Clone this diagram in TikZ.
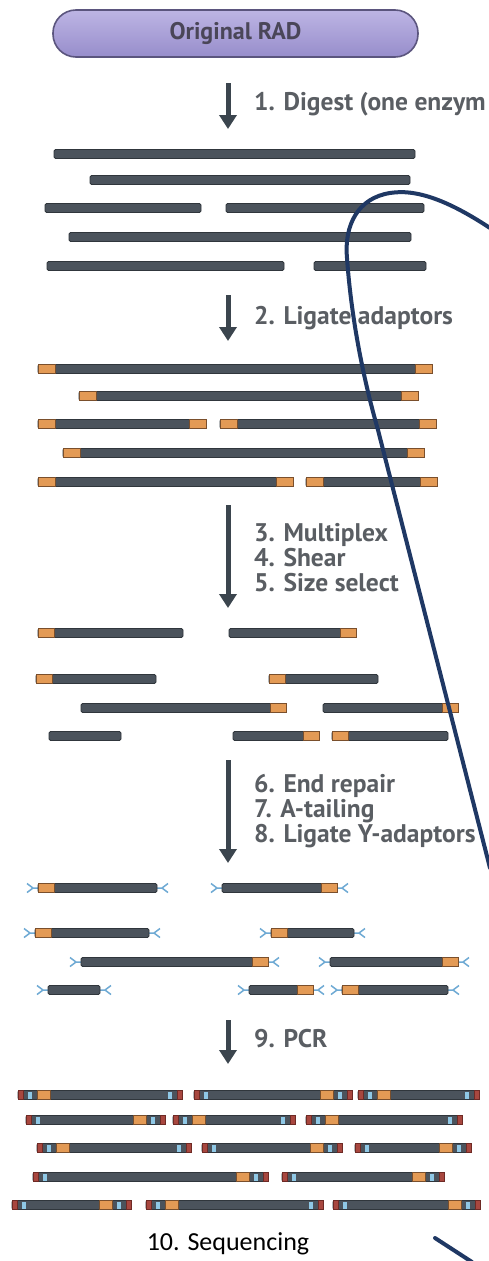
\documentclass[tikz,border=0pt]{standalone}
\usepackage{fontspec}
\setmainfont{PT Sans}
\newfontfamily\seqfont{Carlito}
\usetikzlibrary{arrows.meta}

\definecolor{barfill}{HTML}{4B535C}
\definecolor{barline}{HTML}{30363C}
\definecolor{capfill}{HTML}{E39A55}
\definecolor{capline}{HTML}{7A4F2C}
\definecolor{forkblue}{HTML}{6FAAD4}
\definecolor{pcrred}{HTML}{A8473F}
\definecolor{pcrredline}{HTML}{6E2A25}
\definecolor{pcrblue}{HTML}{8FC8E6}
\definecolor{arrowcol}{HTML}{3B454E}
\definecolor{labelcol}{HTML}{5A5E63}
\definecolor{pilltop}{HTML}{BDB5E4}
\definecolor{pillbot}{HTML}{978DCB}
\definecolor{pillline}{HTML}{5B557E}
\definecolor{pilltext}{HTML}{4A4658}
\definecolor{navy}{HTML}{1F3864}

\tikzset{
  barsty/.style={fill=barfill, draw=barline, line width=0.9pt, rounded corners=1.5pt},
  capsty/.style={fill=capfill, draw=capline, line width=0.7pt},
  forksty/.style={draw=forkblue, line width=1.5pt},
  redcap/.style={fill=pcrred, draw=pcrredline, line width=0.6pt},
  bluemark/.style={fill=pcrblue},
  steparrow/.style={draw=arrowcol, line width=5pt, -{Triangle[width=17pt,length=14pt]}},
  lbl/.style={anchor=west, align=left, text=labelcol, font=\bfseries\fontsize{25.5}{25}\selectfont, inner sep=0pt},
  pill/.style={rounded corners=23pt, minimum width=365pt, minimum height=47pt,
    top color=pilltop, bottom color=pillbot, draw=pillline, line width=1.6pt,
    text=pilltext, font=\bfseries\fontsize{24}{24}\selectfont},
  pen/.style={draw=navy, line width=4pt, line cap=round}
}

% a plain DNA fragment from x1 to x2 at height y
\newcommand{\plainbar}[3]{\draw[barsty] (#1,#3-4.5) rectangle (#2,#3+4.5);}
% an orange adaptor block from x1 to x2 at height y
\newcommand{\ocap}[3]{\draw[capsty] (#1,#3-4.5) rectangle (#2,#3+4.5);}
% fragment with adaptors at both ends
\newcommand{\ligbar}[3]{\plainbar{#1}{#2}{#3}\ocap{#1}{#1+17}{#3}\ocap{#2-17}{#2}{#3}}
% fragment with an adaptor on the left / right end only
\newcommand{\sbarL}[3]{\plainbar{#1}{#2}{#3}\ocap{#1}{#1+16}{#3}}
\newcommand{\sbarR}[3]{\plainbar{#1}{#2}{#3}\ocap{#2-16}{#2}{#3}}
% Y-adaptor forks at both ends
\newcommand{\forks}[3]{\draw[forksty] (#1-11,#3-4.5) -- (#1-5,#3) -- (#1-11,#3+4.5) (#1-5,#3) -- (#1,#3)
  (#2+11,#3-4.5) -- (#2+5,#3) -- (#2+11,#3+4.5) (#2+5,#3) -- (#2,#3);}
\newcommand{\ybarL}[3]{\forks{#1}{#2}{#3}\sbarL{#1}{#2}{#3}}
\newcommand{\ybarR}[3]{\forks{#1}{#2}{#3}\sbarR{#1}{#2}{#3}}
\newcommand{\ybarN}[3]{\forks{#1}{#2}{#3}\plainbar{#1}{#2}{#3}}
% amplified library fragment
\newcommand{\pcrbase}[3]{\plainbar{#1}{#2}{#3}
  \draw[redcap] (#1,#3-4.5) rectangle (#1+5,#3+4.5);
  \draw[redcap] (#2-5,#3-4.5) rectangle (#2,#3+4.5);
  \fill[bluemark] (#1+10,#3-3.5) rectangle (#1+14,#3+3.5);
  \fill[bluemark] (#2-14,#3-3.5) rectangle (#2-10,#3+3.5);}
\newcommand{\pcrL}[3]{\pcrbase{#1}{#2}{#3}\ocap{#1+19}{#1+32}{#3}}
\newcommand{\pcrR}[3]{\pcrbase{#1}{#2}{#3}\ocap{#2-32}{#2-19}{#3}}

\begin{document}
\begin{tikzpicture}[x=1pt,y=-1pt]
\useasboundingbox[fill=white] (0,0) rectangle (488,1261);

% title
\node[pill] (orig) at (235.5,33.5) {Original RAD};

% step 1
\coordinate (s1a) at (228,83);
\coordinate (s1b) at (228,129);
\draw[steparrow] (s1a) -- (s1b);
\node[lbl] (l1) at (254,104) {1. Digest (one enzym};

\plainbar{54}{415}{154}
\plainbar{90}{410}{180}
\plainbar{45}{201}{208} \plainbar{226}{424}{208}
\plainbar{69}{411}{237}
\plainbar{47}{284}{266} \plainbar{314}{426}{266}

% step 2
\coordinate (s2a) at (228,295);
\coordinate (s2b) at (228,341);
\draw[steparrow] (s2a) -- (s2b);
\node[lbl] (l2) at (254,318) {2. Ligate adaptors};

\ligbar{38}{432}{369}
\ligbar{79}{418}{396}
\ligbar{38}{206}{424} \ligbar{220}{436}{424}
\ligbar{63}{424}{453}
\ligbar{38}{293}{482} \ligbar{306}{437}{482}

% steps 3-5
\coordinate (s3a) at (228,505);
\coordinate (s3b) at (228,608);
\draw[steparrow] (s3a) -- (s3b);
\node[lbl] (l3) at (254,558) {3. Multiplex\\4. Shear\\5. Size select};

\sbarL{38}{183}{633} \sbarR{229}{356}{633}
\sbarL{36}{156}{679} \sbarL{269}{378}{679}
\sbarR{81}{286}{708} \sbarR{323}{458}{708}
\plainbar{49}{121}{736} \sbarR{233}{319}{736} \sbarL{332}{448}{736}

% steps 6-8
\coordinate (s4a) at (228,760);
\coordinate (s4b) at (228,863);
\draw[steparrow] (s4a) -- (s4b);
\node[lbl] (l4) at (254,811) {6. End repair\\7. A-tailing\\8. Ligate Y-adaptors};

\ybarL{38}{157}{888} \ybarR{222}{337}{888}
\ybarL{35}{149}{933} \ybarL{271}{354}{933}
\ybarR{81}{268}{962} \ybarR{330}{458}{962}
\ybarN{48}{100}{990} \ybarR{249}{313}{990} \ybarL{342}{448}{990}

% step 9
\coordinate (s5a) at (228,1020);
\coordinate (s5b) at (228,1064);
\draw[steparrow] (s5a) -- (s5b);
\node[lbl] (l5) at (254,1039) {9. PCR};

\pcrL{18}{182}{1095} \pcrR{194}{352}{1095} \pcrL{358}{479}{1095}
\pcrR{26}{165}{1120} \pcrL{173}{295}{1120} \pcrL{306}{462}{1120}
\pcrL{37}{191}{1148} \pcrR{202}{342}{1148} \pcrR{355}{471}{1148}
\pcrR{33}{268}{1177} \pcrR{282}{444}{1177}
\pcrR{12}{131}{1205} \pcrL{146}{323}{1205} \pcrR{333}{480}{1205}

% step 10
\node[font=\seqfont\fontsize{26}{26}\selectfont, text=black, inner sep=0pt] (l6) at (228,1244) {10. Sequencing};

% hand-drawn pen strokes
\coordinate (p0) at (490,228);
\coordinate (p1) at (390,193);
\coordinate (p2) at (347,258);
\coordinate (p3) at (378,430);
\coordinate (p4) at (490,868);
\draw[pen] (p0) .. controls (455,205) and (420,188) .. (p1)
  .. controls (358,198) and (344,225) .. (p2)
  .. controls (350,300) and (358,360) .. (p3) -- (p4);
\coordinate (q0) at (435,1238);
\coordinate (q1) at (472,1262);
\draw[pen] (q0) -- (q1);
\end{tikzpicture}
\end{document}
